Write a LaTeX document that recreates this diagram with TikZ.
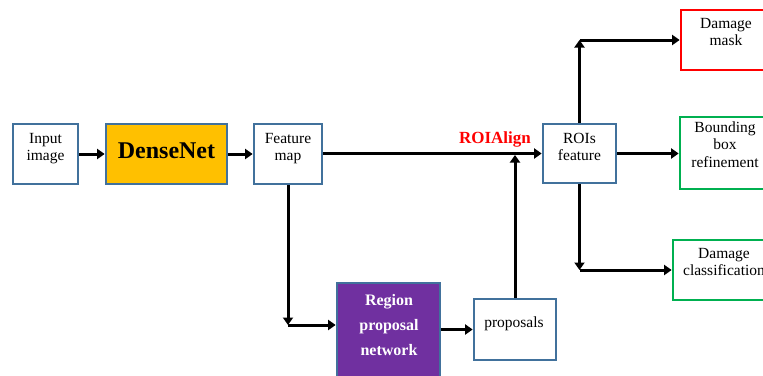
\documentclass[tikz,border=0pt]{standalone}
\usepackage{fontspec}
\setmainfont{Liberation Serif}
\usetikzlibrary{arrows.meta}
\definecolor{boxblue}{RGB}{65,113,156}
\definecolor{densegold}{RGB}{255,192,0}
\definecolor{rpnpurple}{RGB}{112,48,160}
\definecolor{okgreen}{RGB}{0,176,80}
\tikzset{
  box/.style={draw=boxblue, line width=2.7pt, fill=white, inner sep=0pt},
  arr/.style={draw=black, line width=3pt, -{Triangle[length=7.5pt,width=10pt]}},
  lbl/.style={font=\fontsize{15.5}{17.5}\selectfont, align=center, inner sep=0pt, anchor=north},
}
\begin{document}
\begin{tikzpicture}[x=1pt,y=-1pt]
\useasboundingbox (0,0) rectangle (763,375);
\clip (0,0) rectangle (763,375);

% boxes
\node[box, minimum width=65pt, minimum height=60pt] (in) at (45.5,154) {};
\node[box, fill=densegold, minimum width=121pt, minimum height=60pt] (dense) at (166.5,154) {};
\node[box, minimum width=68pt, minimum height=60pt] (feat) at (288,154) {};
\node[box, minimum width=73pt, minimum height=59pt] (rois) at (579.5,153.5) {};
\node[box, fill=rpnpurple, minimum width=103pt, minimum height=114pt] (rpn) at (388.5,340) {};
\node[box, minimum width=82pt, minimum height=61pt] (props) at (515,329.5) {};
\node[box, draw=red, minimum width=90pt, minimum height=60pt] (mask) at (726,40) {};
\node[box, draw=okgreen, minimum width=90pt, minimum height=72pt] (bbox) at (725,153) {};
\node[box, draw=okgreen, minimum width=102pt, minimum height=60pt] (cls) at (724,270) {};

% box texts
\node[lbl] (tin) at (45.5,131) {\strut Input\\image};
\node[font=\fontsize{24}{28}\selectfont\bfseries, inner sep=0pt, anchor=base] (tdense) at (166.5,158) {DenseNet};
\node[lbl] (tfeat) at (288,131) {\strut Feature\\map};
\node[lbl] (trois) at (579.5,131) {\strut ROIs\\feature};
\node[lbl, font=\fontsize{16}{25}\selectfont\bfseries, text=white] (trpn) at (389,287.5) {\strut Region\\proposal\\network};
\node[font=\fontsize{15.5}{17.5}\selectfont, inner sep=0pt, anchor=base] (tprops) at (514,327) {proposals};
\node[lbl] (tmask) at (726,16) {\strut Damage\\mask};
\node[lbl] (tbbox) at (725,120) {\strut Bounding\\box\\refinement};
\node[lbl] (tcls) at (724,246) {\strut Damage\\classification};
\node[font=\fontsize{17}{20}\selectfont\bfseries, text=red, inner sep=0pt, anchor=base] (align) at (495,143) {ROIAlign};

% corner points
\coordinate (c1) at (288,325);
\coordinate (c2) at (579.5,40);
\coordinate (c3) at (579.5,270);

% connectors
\draw[arr] (in) -- (dense);
\draw[arr] (dense) -- (feat);
\draw[arr] (feat.east |- rois.west) -- (rois.west);
\draw[arr] (feat.south) -- (c1);
\draw[arr] (c1) -- (c1 -| rpn.west);
\draw[arr] (props.west -| rpn.east) -- (props.west);
\draw[arr] (props.north) -- ([yshift=-1.5pt]props.north |- rois.west);
\draw[arr] (rois.east) -- (rois.east -| bbox.west);
\draw[arr] (rois.north) -- (c2);
\draw[arr] (c2) -- (mask.west);
\draw[arr] (rois.south) -- (c3);
\draw[arr] (c3) -- (cls.west);
\end{tikzpicture}
\end{document}
